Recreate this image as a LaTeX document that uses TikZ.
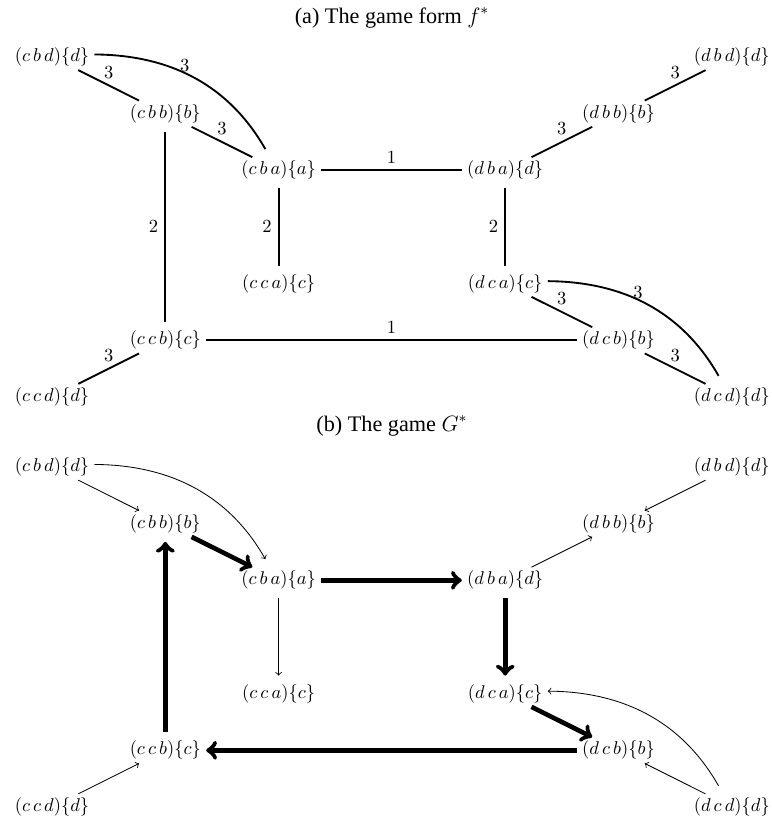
\documentclass[tikz,border=0pt]{standalone}
\usepackage[no-math]{fontspec}
\setmainfont{Liberation Serif}
\begin{document}
\begin{tikzpicture}[x=0.5405pt,y=0.5405pt,
  st/.style={inner xsep=2.7pt, inner ysep=1.9pt, font=\fontsize{10}{12}\selectfont},
  ttl/.style={anchor=base, inner sep=0pt, font=\fontsize{12}{14.4}\selectfont},
  ea/.style={line width=1pt},
  lab/.style={font=\fontsize{10}{12}\selectfont},
  vshort/.style={shorten >=2.7pt, shorten <=2.7pt},
  thinarr/.style={->, line width=0.45pt},
  thickarr/.style={->, line width=2.5pt},
]
\useasboundingbox (0,0) rectangle (772,-823);

% ---------- (a) ----------
\node[ttl] (ta) at (392,-23) {(a) The game form $f^*$};
\node[st] (acbd) at (52,-57)    {$(c\,b\,d)\{d\}$};
\node[st] (acbb) at (165.3,-113.7) {$(c\,b\,b)\{b\}$};
\node[st] (acba) at (278.6,-170.3) {$(c\,b\,a)\{a\}$};
\node[st] (adba) at (505.2,-170.3) {$(d\,b\,a)\{d\}$};
\node[st] (adbb) at (618.5,-113.7) {$(d\,b\,b)\{b\}$};
\node[st] (adbd) at (731.8,-57)    {$(d\,b\,d)\{d\}$};
\node[st] (acca) at (278.6,-283.7) {$(c\,c\,a)\{c\}$};
\node[st] (adca) at (505.2,-283.7) {$(d\,c\,a)\{c\}$};
\node[st] (accb) at (165.3,-340.3) {$(c\,c\,b)\{c\}$};
\node[st] (adcb) at (618.5,-340.3) {$(d\,c\,b)\{b\}$};
\node[st] (accd) at (52,-397)      {$(c\,c\,d)\{d\}$};
\node[st] (adcd) at (731.8,-397)   {$(d\,c\,d)\{d\}$};

\draw[ea] (acbd) -- node[lab,above]{$3$} (acbb);
\draw[ea] (acbb) -- node[lab,above]{$3$} (acba);
\draw[ea] (acba) -- node[lab,above]{$1$} (adba);
\draw[ea] (adba) -- node[lab,above]{$3$} (adbb);
\draw[ea] (adbb) -- node[lab,above]{$3$} (adbd);
\draw[ea,vshort] (acba) -- node[lab,left]{$2$} (acca);
\draw[ea,vshort] (adba) -- node[lab,left]{$2$} (adca);
\draw[ea,vshort] (acbb) -- node[lab,left]{$2$} (accb);
\draw[ea] (accb) -- node[lab,above]{$1$} (adcb);
\draw[ea] (accd) -- node[lab,above]{$3$} (accb);
\draw[ea] (adca) -- node[lab,above]{$3$} (adcb);
\draw[ea] (adcb) -- node[lab,above]{$3$} (adcd);
\draw[ea,shorten >=5pt] (acbd) to[bend left=30] node[lab,pos=0.43,anchor=south,inner sep=0.5pt]{$3$} (acba);
\draw[ea,shorten >=5pt] (adca) to[bend left=30] node[lab,pos=0.43,anchor=south,inner sep=0.5pt]{$3$} (adcd);

% ---------- (b) ----------
\node[ttl] (tb) at (392,-431) {(b) The game $G^*$};
\node[st] (bcbd) at (52,-467)    {$(c\,b\,d)\{d\}$};
\node[st] (bcbb) at (165.3,-523.7) {$(c\,b\,b)\{b\}$};
\node[st] (bcba) at (278.6,-580.3) {$(c\,b\,a)\{a\}$};
\node[st] (bdba) at (505.2,-580.3) {$(d\,b\,a)\{d\}$};
\node[st] (bdbb) at (618.5,-523.7) {$(d\,b\,b)\{b\}$};
\node[st] (bdbd) at (731.8,-467)   {$(d\,b\,d)\{d\}$};
\node[st] (bcca) at (278.6,-693.7) {$(c\,c\,a)\{c\}$};
\node[st] (bdca) at (505.2,-693.7) {$(d\,c\,a)\{c\}$};
\node[st] (bccb) at (165.3,-750.3) {$(c\,c\,b)\{c\}$};
\node[st] (bdcb) at (618.5,-750.3) {$(d\,c\,b)\{b\}$};
\node[st] (bccd) at (52,-807)      {$(c\,c\,d)\{d\}$};
\node[st] (bdcd) at (731.8,-807)   {$(d\,c\,d)\{d\}$};

\draw[thickarr] (bcbb) -- (bcba);
\draw[thickarr] (bcba) -- (bdba);
\draw[thickarr,vshort] (bdba) -- (bdca);
\draw[thickarr] (bdca) -- (bdcb);
\draw[thickarr] (bdcb) -- (bccb);
\draw[thickarr,vshort] (bccb) -- (bcbb);

\draw[thinarr] (bcbd) -- (bcbb);
\draw[thinarr,shorten >=5pt] (bcbd) to[bend left=30] (bcba);
\draw[thinarr,vshort] (bcba) -- (bcca);
\draw[thinarr] (bdba) -- (bdbb);
\draw[thinarr] (bdbd) -- (bdbb);
\draw[thinarr,shorten <=5pt] (bdcd) to[bend right=30] (bdca);
\draw[thinarr] (bdcd) -- (bdcb);
\draw[thinarr] (bccd) -- (bccb);
\end{tikzpicture}
\end{document}
